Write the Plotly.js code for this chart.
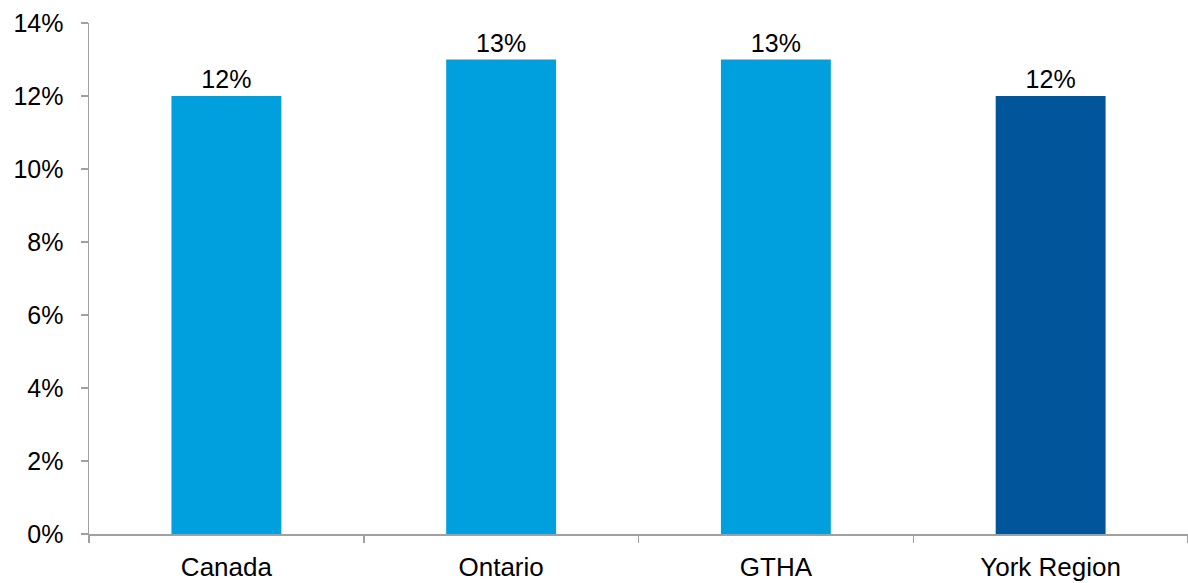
<!DOCTYPE html>
<html>
<head>
<meta charset="utf-8">
<script src="https://cdn.plot.ly/plotly-3.0.1.min.js"></script>
<style>
  html, body { margin: 0; padding: 0; background: #fff; }
  #chart { width: 1188px; height: 583px; }
</style>
</head>
<body>
<div id="chart"></div>
<script>
// Share by region (percent)
const regions = ["Canada", "Ontario", "GTHA", "York Region"];
const shares = [12, 13, 13, 12];
const barColors = ["#00A0DF", "#00A0DF", "#00A0DF", "#00559B"];
const yTickValues = [0, 2, 4, 6, 8, 10, 12, 14];

const font = { family: "Liberation Sans, Arial, sans-serif", size: 25, color: "#000" };
const xFont = { family: "Liberation Sans, Arial, sans-serif", size: 26, color: "#000" };

const trace = {
  type: "bar",
  x: regions,
  y: shares,
  marker: { color: barColors, line: { width: 0 } },
  text: shares.map(v => v + "%"),
  textposition: "outside",
  textfont: font,
  cliponaxis: false,
  hoverinfo: "skip"
};

const layout = {
  width: 1188,
  height: 583,
  margin: { l: 89, r: 0, t: 23, b: 49 },
  paper_bgcolor: "#fff",
  plot_bgcolor: "#fff",
  font: font,
  showlegend: false,
  bargap: 0.6,
  xaxis: {
    type: "category",
    showline: true,
    linecolor: "#a0a0a0",
    linewidth: 1.5,
    ticks: "outside",
    tickson: "boundaries",
    ticklen: 7,
    tickwidth: 1.5,
    tickcolor: "#a0a0a0",
    ticklabelstandoff: 9,
    showgrid: false,
    zeroline: false,
    tickfont: xFont,
    fixedrange: true
  },
  yaxis: {
    range: [0, 14],
    tickvals: yTickValues,
    ticktext: yTickValues.map(v => v + "%"),
    showline: true,
    linecolor: "#a0a0a0",
    linewidth: 1.5,
    ticks: "outside",
    ticklen: 7,
    tickwidth: 1.5,
    tickcolor: "#a0a0a0",
    ticklabelstandoff: 12,
    showgrid: false,
    zeroline: false,
    tickfont: font,
    fixedrange: true
  }
};

Plotly.newPlot("chart", [trace], layout, { displayModeBar: false, staticPlot: true });
</script>
</body>
</html>
